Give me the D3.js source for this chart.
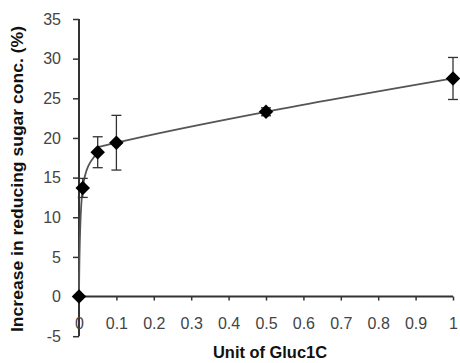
<!DOCTYPE html>
<html>
<head>
<meta charset="utf-8">
<script src="https://cdn.jsdelivr.net/npm/d3@7"></script>
<style>
  html, body { margin: 0; padding: 0; background: #fff; }
  svg { display: block; }
</style>
</head>
<body>
<svg id="chart" width="460" height="363"></svg>
<script>
// Data
const units = [0, 0.01, 0.05, 0.1, 0.5, 1];
const increase = [0, 13.7, 18.2, 19.4, 23.3, 27.5];
const errors = [0, 1.2, 1.95, 3.45, 0.5, 2.65];
const xTicks = [0, 0.1, 0.2, 0.3, 0.4, 0.5, 0.6, 0.7, 0.8, 0.9, 1];
const yTicks = [-5, 0, 5, 10, 15, 20, 25, 30, 35];
const xTitle = "Unit of Gluc1C";
const yTitle = "Increase in reducing sugar conc. (%)";

const svg = d3.select("#chart");
const x = d3.scaleLinear().domain([0, 1]).range([79, 453]);
const y = d3.scaleLinear().domain([-5, 35]).range([336.2, 19]);

const axisColor = "#333";
const labelColor = "#444";
const font = "Arial, 'Liberation Sans', sans-serif";

// Y axis (vertical line at x=0)
const yAxis = svg.append("g")
  .attr("transform", `translate(${x(0)},0)`)
  .call(d3.axisLeft(y).tickValues(yTicks).tickSize(6).tickPadding(12).tickFormat(d => String(d)));
yAxis.select(".domain").attr("stroke", axisColor).attr("stroke-width", 2).attr("d", `M0,${y(-5)}V${y(35)}`);
yAxis.selectAll(".tick line").attr("stroke", axisColor).attr("stroke-width", 1.5);
yAxis.selectAll(".tick text").attr("fill", labelColor).style("font-family", font).style("font-size", "16px");

// X axis (at y=0)
const xAxis = svg.append("g")
  .attr("transform", `translate(0,${y(0)})`)
  .call(d3.axisBottom(x).tickValues(xTicks).tickSize(4).tickPadding(17).tickFormat(d => String(d)));
xAxis.select(".domain").attr("stroke", axisColor).attr("stroke-width", 2).attr("d", `M${x(0)},0H${x(1)}`);
xAxis.selectAll(".tick line").attr("stroke", axisColor).attr("stroke-width", 1.5);
xAxis.selectAll(".tick text").attr("fill", labelColor).style("font-family", font).style("font-size", "16px");

const data = units.map((u, i) => ({ u, v: increase[i], e: errors[i] }));

// Curve (smoothed line, Excel-like)
const line = d3.line().x(d => x(d.u)).y(d => y(d.v)).curve(d3.curveCardinal.tension(0));
svg.append("path").datum(data)
  .attr("d", line)
  .attr("fill", "none")
  .attr("stroke", "#555")
  .attr("stroke-width", 1.8);

// Error bars
const eb = svg.append("g").attr("stroke", axisColor).attr("stroke-width", 1.3);
data.filter(d => d.e > 0).forEach(d => {
  eb.append("line").attr("x1", x(d.u)).attr("x2", x(d.u)).attr("y1", y(d.v - d.e)).attr("y2", y(d.v + d.e));
  [d.v - d.e, d.v + d.e].forEach(v => {
    eb.append("line").attr("x1", x(d.u) - 5).attr("x2", x(d.u) + 5).attr("y1", y(v)).attr("y2", y(v));
  });
});

// Diamond markers
svg.append("g").selectAll("path").data(data).join("path")
  .attr("d", d3.symbol().type(d3.symbolSquare).size(105))
  .attr("transform", d => `translate(${x(d.u)},${y(d.v)}) rotate(45)`)
  .attr("fill", "#000");

// Titles
svg.append("text")
  .attr("x", 270).attr("y", 358)
  .attr("text-anchor", "middle")
  .attr("textLength", 114).attr("lengthAdjust", "spacingAndGlyphs")
  .style("font-family", font).style("font-size", "16px").style("font-weight", "bold")
  .attr("fill", "#111")
  .text(xTitle);

svg.append("text")
  .attr("transform", `translate(23,179) rotate(-90)`)
  .attr("text-anchor", "middle")
  .attr("textLength", 306).attr("lengthAdjust", "spacingAndGlyphs")
  .style("font-family", font).style("font-size", "16px").style("font-weight", "bold")
  .attr("fill", "#111")
  .text(yTitle);
</script>
</body>
</html>
